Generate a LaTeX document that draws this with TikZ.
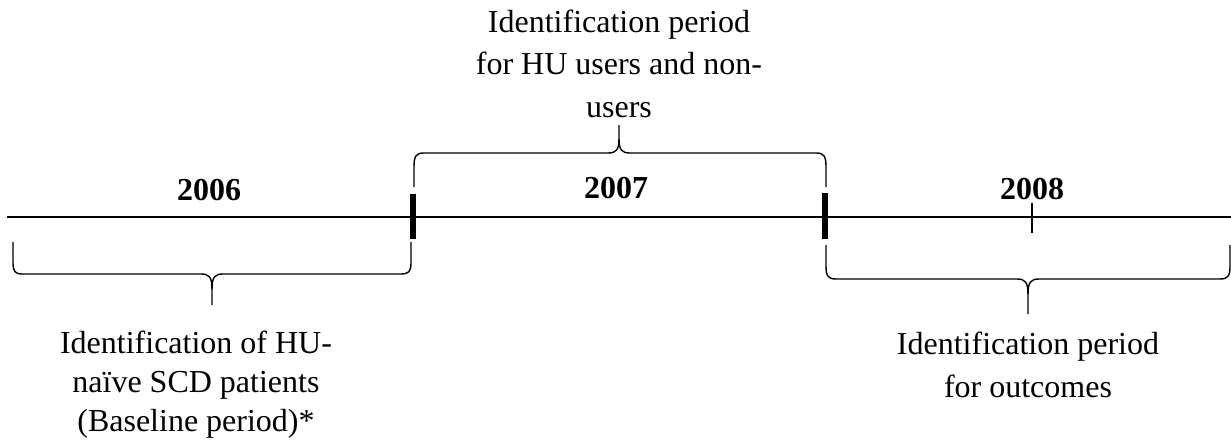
\documentclass[tikz,border=0pt]{standalone}
\usepackage{fontspec}
\setmainfont{Liberation Serif}
\begin{document}
\begin{tikzpicture}[x=1pt,y=-1pt,
  lbl/.style={font=\fontsize{32}{42.7}\selectfont,align=center,inner sep=0pt,anchor=base},
  yr/.style={font=\fontsize{32}{40}\selectfont\bfseries,inner sep=0pt,anchor=base},
  axis/.style={line width=1.5pt},
  bigtick/.style={line width=5.5pt},
  smalltick/.style={line width=1.3pt},
  brc/.style={line width=1.4pt,line join=round}]
\useasboundingbox (0,0) rectangle (1231,447);
% timeline
\coordinate (L) at (7,217);
\coordinate (R) at (1231,217);
\draw[axis] (L) -- (R);
% ticks
\coordinate (t1a) at (413,194); \coordinate (t1b) at (413,239);
\coordinate (t2a) at (825,193); \coordinate (t2b) at (825,239);
\coordinate (t3a) at (1032,203); \coordinate (t3b) at (1032,233);
\draw[bigtick] (t1a) -- (t1b);
\draw[bigtick] (t2a) -- (t2b);
\draw[smalltick] (t3a) -- (t3b);
% years
\node[yr] (y6) at (209,200) {2006};
\node[yr] (y7) at (616,198) {2007};
\node[yr] (y8) at (1032,199) {2008};
% left brace (down)
\draw[brc] (13,242) -- (13,262) .. controls (13,272) and (15,274) .. (23,274) -- (201,274)
  .. controls (209,274) and (212,277) .. (212,289) -- (212,305);
\draw[brc] (212,289) .. controls (212,277) and (215,274) .. (223,274) -- (400,274)
  .. controls (409,274) and (411,272) .. (411,262) -- (411,242);
% top brace (up)
\draw[brc] (414,187) -- (414,167) .. controls (414,156) and (416,153) .. (424,153) -- (608,153)
  .. controls (616,153) and (619,150) .. (619,139) -- (619,125);
\draw[brc] (619,139) .. controls (619,150) and (622,153) .. (630,153) -- (816,153)
  .. controls (824,153) and (826,156) .. (826,167) -- (826,187);
% right brace (down)
\draw[brc] (826,245) -- (826,266) .. controls (826,276) and (828,279) .. (836,279) -- (1017,279)
  .. controls (1025,279) and (1028,282) .. (1028,294) -- (1028,314);
\draw[brc] (1028,294) .. controls (1028,282) and (1031,279) .. (1039,279) -- (1220,279)
  .. controls (1228,279) and (1230,276) .. (1230,266) -- (1230,245);
% labels (base anchor = last line baseline)
\node[lbl] (top) at (619,117.5) {Identification period\\for HU users and non-\\users};
\node[lbl,font=\fontsize{32}{39}\selectfont] (bl) at (196,431) {Identification of HU-\\na\"ive SCD patients\\(Baseline period)*};
\node[lbl] (br) at (1028,397) {Identification period\\for outcomes};
\end{tikzpicture}
\end{document}
